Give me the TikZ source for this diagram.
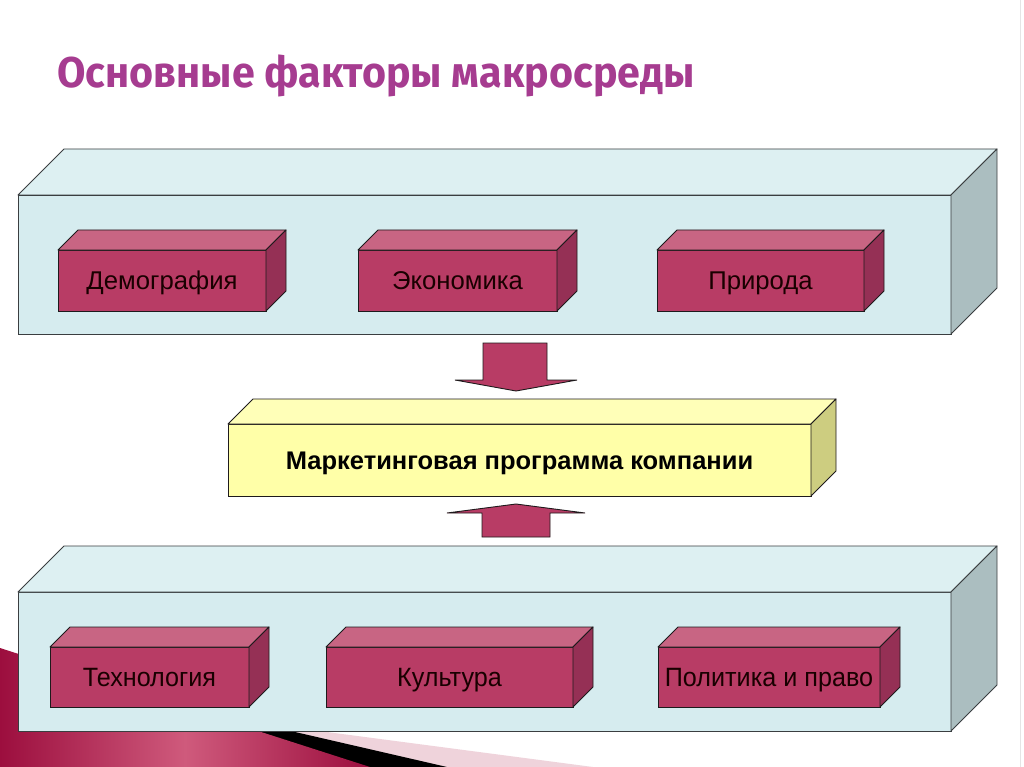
\documentclass[tikz,border=0pt]{standalone}
\usepackage{fontspec}
\setmainfont{Liberation Sans}
\newfontfamily\titlefont{Fira Sans}
\usetikzlibrary{calc}
\definecolor{bigfront}{HTML}{D6ECEF}
\definecolor{bigtop}{HTML}{DDF0F2}
\definecolor{bigside}{HTML}{ABBEC0}
\definecolor{smfront}{HTML}{B83C65}
\definecolor{smtop}{HTML}{C86583}
\definecolor{smside}{HTML}{953055}
\definecolor{yfront}{HTML}{FFFFA8}
\definecolor{ytop}{HTML}{FFFFB8}
\definecolor{yside}{HTML}{CDCD80}
\definecolor{edge}{HTML}{1E1A1C}
\definecolor{bigedge}{HTML}{3A3E40}
\definecolor{titlecol}{HTML}{A63C90}
\definecolor{crimson}{HTML}{9C0E3E}
\definecolor{crimsonlight}{HTML}{CF5A7C}
\definecolor{pinkstripe}{HTML}{EFD3DB}
\tikzset{
  bigbox/.style={draw=bigedge, fill=bigfront, line width=0.9pt, inner sep=0pt, outer sep=0pt},
  smallbox/.style={draw=edge, fill=smfront, line width=0.9pt, inner sep=0pt, outer sep=0pt,
     font=\fontsize{25.7}{28}\selectfont, text=black!90!red, text height=18.4pt, text depth=0pt},
  midbox/.style={draw=edge, fill=yfront, line width=0.9pt, inner sep=0pt, outer sep=0pt,
     font=\fontsize{25.5}{28}\selectfont\bfseries, text height=18.3pt, text depth=0pt},
  face/.style={draw=edge, line width=0.9pt, line join=round},
  bigface/.style={draw=bigedge, line width=0.9pt, line join=round},
  blockarrow/.style={draw=edge, fill=smfront, line width=0.9pt, line join=miter}
}
\newcommand\narrowtxt[1]{\scalebox{0.95}[1]{\fontsize{26.5}{28}\selectfont #1}}
% #1 node name, #2 depth, #3 top colour, #4 side colour, #5 style
\newcommand\cubeface[5]{%
  \path[#5, fill=#3] (#1.north west) -- ++(#2,-#2) -- ($(#1.north east)+(#2,-#2)$) -- (#1.north east) -- cycle;
  \path[#5, fill=#4] (#1.north east) -- ++(#2,-#2) -- ($(#1.south east)+(#2,-#2)$) -- (#1.south east) -- cycle;
}
\begin{document}
\begin{tikzpicture}[x=1pt,y=-1pt]
\useasboundingbox (0,0) rectangle (1024,767);
\fill[white] (0,0) rectangle (1024,767);
\draw[black!10, line width=0.8pt] (1020,0) -- (1020,767);

% decoration at bottom left
\fill[pinkstripe] (0,689) -- (593,767) -- (0,767) -- cycle;
\fill[black] (0,664) -- (447,767) -- (0,767) -- cycle;
\shade[left color=crimson, right color=crimson, middle color=crimsonlight] (0,648) -- (370,767) -- (0,767) -- cycle;

% title
\node[anchor=base west, inner sep=0pt, text=titlecol] (title) at (57,88)
  {\scalebox{0.958}[1]{\titlefont\bfseries\fontsize{43}{46}\selectfont Основные факторы макросреды}};

% top big box
\node[bigbox, minimum width=933pt, minimum height=139pt] (topbox) at (484.5,264.5) {};
\cubeface{topbox}{46}{bigtop}{bigside}{bigface}

\node[smallbox, minimum width=208pt, minimum height=61pt] (demo) at (162,280.5) {Демография};
\cubeface{demo}{20}{smtop}{smside}{face}
\node[smallbox, minimum width=199pt, minimum height=61pt] (econ) at (457.5,280.5) {Экономика};
\cubeface{econ}{20}{smtop}{smside}{face}
\node[smallbox, minimum width=207pt, minimum height=61pt] (nature) at (760.5,280.5) {Природа};
\cubeface{nature}{20}{smtop}{smside}{face}

% middle box
\node[midbox, minimum width=583pt, minimum height=72pt] (prog) at (519.5,460) {Маркетинговая программа компании};
\cubeface{prog}{25}{ytop}{yside}{face}

% bottom big box
\node[bigbox, minimum width=933pt, minimum height=139pt] (botbox) at (484.5,661.5) {};
\cubeface{botbox}{46}{bigtop}{bigside}{bigface}

\node[smallbox, minimum width=199pt, minimum height=60pt] (tech) at (149.5,677) {\narrowtxt{Технология}};
\cubeface{tech}{20}{smtop}{smside}{face}
\node[smallbox, minimum width=247pt, minimum height=60pt] (cult) at (449.5,677) {\narrowtxt{Культура}};
\cubeface{cult}{20}{smtop}{smside}{face}
\node[smallbox, minimum width=222pt, minimum height=60pt] (polit) at (769,677) {\narrowtxt{Политика и право}};
\cubeface{polit}{20}{smtop}{smside}{face}

% block arrows
\coordinate (downtip) at (516,391);
\coordinate (uptip) at (516,504);
\draw[blockarrow] (483,343) -- (547,343) -- (547,380) -- (577,380) -- (downtip) -- (455,380) -- (483,380) -- cycle;
\draw[blockarrow] (482,537) -- (482,513) -- (447,513) -- (uptip) -- (585,513) -- (550,513) -- (550,537) -- cycle;
\end{tikzpicture}
\end{document}
